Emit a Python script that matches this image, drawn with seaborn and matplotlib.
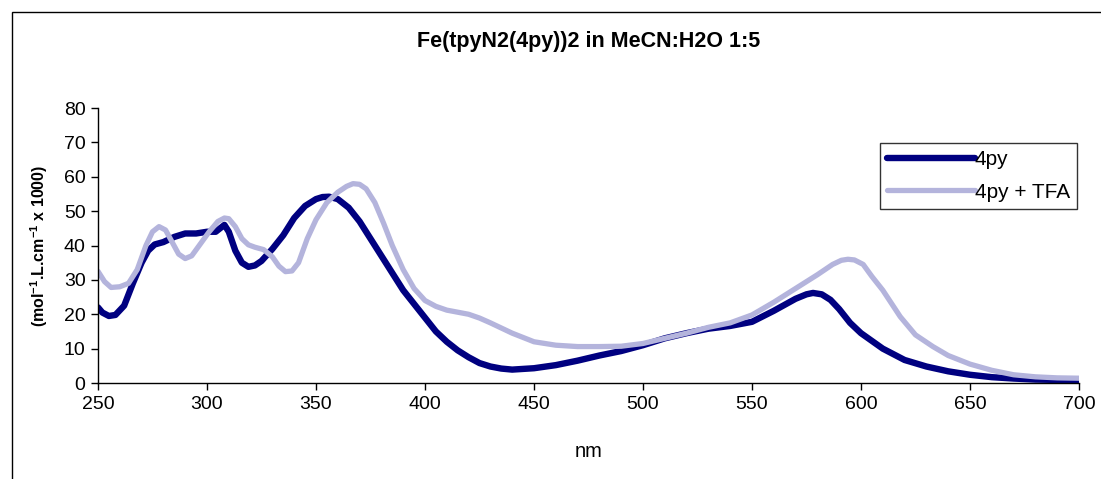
import pandas as pd
import matplotlib
matplotlib.use('Agg')
import matplotlib.pyplot as plt
import seaborn as sns
from matplotlib.patches import Rectangle

nm_4py = [250, 252, 255, 258, 262, 266, 270, 273, 276, 280, 285, 290, 295, 300, 304, 306,
          308, 310, 313, 316, 319, 322, 325, 330, 335, 340, 345, 350, 353, 356, 360, 365,
          370, 375, 380, 385, 390, 395, 400, 405, 410, 415, 420, 425, 430, 435, 440, 450,
          460, 470, 480, 490, 500, 510, 520, 530, 540, 550, 560, 570, 575, 578, 582, 586,
          590, 595, 600, 610, 620, 630, 640, 650, 660, 670, 680, 690, 700]
eps_4py = [22, 20.5, 19.5, 19.8, 22.5, 29, 35, 38.5, 40.3, 41, 42.5, 43.5, 43.5, 44, 44, 45,
           46, 44, 38.5, 35, 33.8, 34.2, 35.5, 39, 43, 48, 51.5, 53.5, 54.1, 54.2, 53.5, 51,
           47, 42, 37, 32, 27, 23, 19, 15, 12, 9.5, 7.5, 5.8, 4.8, 4.2, 3.9, 4.3,
           5.2, 6.5, 8, 9.3, 11, 13, 14.5, 15.8, 16.6, 17.8, 21, 24.5, 25.8, 26.2, 25.8, 24.2,
           21.5, 17.5, 14.5, 10, 6.7, 4.8, 3.4, 2.4, 1.7, 1.3, 1.0, 0.9, 0.8]

nm_tfa = [250, 253, 256, 260, 264, 268, 272, 275, 278, 281, 284, 287, 290, 293, 297, 301,
          305, 308, 310, 313, 316, 319, 322, 326, 330, 333, 336, 339, 342, 346, 350, 355,
          360, 364, 367, 370, 373, 377, 381, 385, 390, 395, 400, 405, 410, 420, 425, 430,
          435, 440, 450, 460, 470, 480, 490, 500, 510, 520, 530, 540, 550, 560, 570, 580,
          587, 591, 594, 597, 601, 605, 610, 618, 625, 633, 640, 650, 660, 670, 680, 690, 700]
eps_tfa = [32.5, 29.5, 27.8, 28, 29, 33, 40, 44, 45.5, 44.5, 41, 37.5, 36.2, 37, 40.5, 44,
           47, 48, 47.8, 45.5, 42, 40.2, 39.5, 38.8, 36.7, 34, 32.4, 32.6, 35, 42, 47.5, 52.5,
           55.5, 57.2, 58, 57.8, 56.5, 52.5, 46.5, 40, 33, 27.5, 24, 22.3, 21.2, 20, 18.9, 17.5,
           16, 14.5, 12, 11, 10.6, 10.6, 10.7, 11.5, 13, 14.5, 16.2, 17.5, 19.8, 23.5, 27.5, 31.5,
           34.5, 35.7, 36, 35.8, 34.5, 31, 27, 19.3, 14, 10.6, 8, 5.5, 3.7, 2.4, 1.8, 1.5, 1.4]

series_names = ['4py', '4py + TFA']
colores = {'4py': '#000080', '4py + TFA': '#B4B4DC'}

df = pd.concat([
    pd.DataFrame({'nm': nm_4py, 'eps': eps_4py, 'serie': series_names[0]}),
    pd.DataFrame({'nm': nm_tfa, 'eps': eps_tfa, 'serie': series_names[1]}),
])

sns.set_style('ticks')
plt.rcParams['font.family'] = ['Liberation Sans', 'DejaVu Sans']
plt.rcParams['mathtext.default'] = 'regular'
plt.rcParams['text.color'] = 'black'
plt.rcParams['axes.labelcolor'] = 'black'

fig = plt.figure(figsize=(11.01, 4.79), dpi=100)
ax = fig.add_axes([0.089, 0.2004, 0.891, 0.5741])

sns.lineplot(data=df, x='nm', y='eps', hue='serie', hue_order=series_names,
             palette=colores, ax=ax, sort=False, legend=False)
anchos = {'4py': 4.6, '4py + TFA': 3.8}
for line, name in zip(ax.get_lines(), series_names):
    line.set_linewidth(anchos[name])
    line.set_solid_capstyle('round')
    line.set_solid_joinstyle('round')
    line.set_label(name)

ax.set_xlim(250, 700)
ax.set_ylim(0, 80)
ax.set_xticks(range(250, 701, 50))
ax.set_yticks(range(0, 81, 10))
ax.tick_params(labelsize=14, length=5, width=1, colors='black', pad=4)
for s in ['top', 'right']:
    ax.spines[s].set_visible(False)
for s in ['left', 'bottom']:
    ax.spines[s].set_color('black')
    ax.spines[s].set_linewidth(1)

ax.set_xlabel('nm', fontsize=14.5, labelpad=21)
ax.set_ylabel('(mol$^{-1}$.L.cm$^{-1}$ x 1000)', fontsize=11.5, fontweight='bold', labelpad=10)
ax.set_title('Fe(tpyN2(4py))2 in MeCN:H2O 1:5', fontsize=15.5, fontweight='bold', pad=44)

leg = ax.legend(loc='upper right', bbox_to_anchor=(0.998, 0.873), fontsize=15,
                frameon=True, fancybox=False, edgecolor='black', handlelength=4.2,
                handletextpad=0.0, borderpad=0.35, labelspacing=0.65, borderaxespad=0)
leg.get_frame().set_linewidth(1)

# marco del grafico (recortado)
fig.patches.append(Rectangle((12 / 1101, -0.1), 1.5, (479 - 12) / 479 + 0.1,
                             transform=fig.transFigure, fill=False,
                             edgecolor='black', linewidth=1))

plt.savefig('out.png', dpi=100)
